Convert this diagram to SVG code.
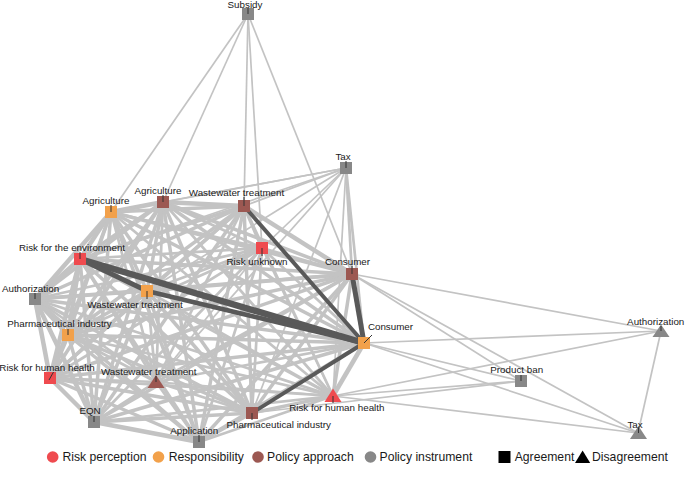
<svg xmlns="http://www.w3.org/2000/svg" width="685" height="494" viewBox="0 0 685 494">
<style>
text{font-family:"Liberation Sans",Arial,sans-serif;font-size:9.8px;fill:#1a1a1a;text-anchor:middle}
.lg text{font-size:12.2px;text-anchor:start}
#edges line{stroke:#c3c3c3}
#edges .a{stroke-width:1.8}#edges .b{stroke-width:2.7}#edges .c{stroke-width:3.5}#edges .d{stroke-width:4.5}#edges .t{stroke-width:1.7}
#edges .k{stroke:#595959}
.tick{stroke:#333;stroke-width:1}
.rp{fill:#EF4B4F}.rs{fill:#F2A14B}.pa{fill:#9C5852}.pi{fill:#888888}
</style>
<rect width="685" height="494" fill="#ffffff"/>
<g id="edges">
<line class="d" x1="111" y1="212" x2="163" y2="202"/>
<line class="c" x1="111" y1="212" x2="244" y2="206"/>
<line class="b" x1="111" y1="212" x2="262" y2="248"/>
<line class="d" x1="111" y1="212" x2="80" y2="259"/>
<line class="c" x1="111" y1="212" x2="352" y2="274"/>
<line class="d" x1="111" y1="212" x2="35" y2="299"/>
<line class="c" x1="111" y1="212" x2="147" y2="291"/>
<line class="c" x1="111" y1="212" x2="68" y2="335"/>
<line class="c" x1="111" y1="212" x2="364" y2="343"/>
<line class="c" x1="111" y1="212" x2="50" y2="378"/>
<line class="b" x1="111" y1="212" x2="156" y2="382"/>
<line class="c" x1="111" y1="212" x2="94" y2="422"/>
<line class="c" x1="111" y1="212" x2="199" y2="442"/>
<line class="c" x1="111" y1="212" x2="252" y2="413"/>
<line class="b" x1="111" y1="212" x2="333" y2="396"/>
<line class="d" x1="163" y1="202" x2="244" y2="206"/>
<line class="b" x1="163" y1="202" x2="262" y2="248"/>
<line class="c" x1="163" y1="202" x2="80" y2="259"/>
<line class="c" x1="163" y1="202" x2="352" y2="274"/>
<line class="c" x1="163" y1="202" x2="35" y2="299"/>
<line class="c" x1="163" y1="202" x2="147" y2="291"/>
<line class="c" x1="163" y1="202" x2="68" y2="335"/>
<line class="c" x1="163" y1="202" x2="364" y2="343"/>
<line class="c" x1="163" y1="202" x2="50" y2="378"/>
<line class="b" x1="163" y1="202" x2="156" y2="382"/>
<line class="c" x1="163" y1="202" x2="94" y2="422"/>
<line class="c" x1="163" y1="202" x2="199" y2="442"/>
<line class="c" x1="163" y1="202" x2="252" y2="413"/>
<line class="b" x1="163" y1="202" x2="333" y2="396"/>
<line class="c" x1="244" y1="206" x2="262" y2="248"/>
<line class="c" x1="244" y1="206" x2="80" y2="259"/>
<line class="d" x1="244" y1="206" x2="352" y2="274"/>
<line class="c" x1="244" y1="206" x2="35" y2="299"/>
<line class="c" x1="244" y1="206" x2="147" y2="291"/>
<line class="c" x1="244" y1="206" x2="68" y2="335"/>
<line class="c" x1="244" y1="206" x2="50" y2="378"/>
<line class="b" x1="244" y1="206" x2="156" y2="382"/>
<line class="c" x1="244" y1="206" x2="94" y2="422"/>
<line class="c" x1="244" y1="206" x2="199" y2="442"/>
<line class="c" x1="244" y1="206" x2="252" y2="413"/>
<line class="b" x1="244" y1="206" x2="333" y2="396"/>
<line class="b" x1="262" y1="248" x2="80" y2="259"/>
<line class="b" x1="262" y1="248" x2="352" y2="274"/>
<line class="b" x1="262" y1="248" x2="35" y2="299"/>
<line class="b" x1="262" y1="248" x2="147" y2="291"/>
<line class="b" x1="262" y1="248" x2="68" y2="335"/>
<line class="b" x1="262" y1="248" x2="364" y2="343"/>
<line class="b" x1="262" y1="248" x2="50" y2="378"/>
<line class="a" x1="262" y1="248" x2="156" y2="382"/>
<line class="b" x1="262" y1="248" x2="94" y2="422"/>
<line class="b" x1="262" y1="248" x2="199" y2="442"/>
<line class="b" x1="262" y1="248" x2="252" y2="413"/>
<line class="a" x1="262" y1="248" x2="333" y2="396"/>
<line class="c" x1="80" y1="259" x2="352" y2="274"/>
<line class="d" x1="80" y1="259" x2="35" y2="299"/>
<line class="d" x1="80" y1="259" x2="68" y2="335"/>
<line class="d" x1="80" y1="259" x2="50" y2="378"/>
<line class="b" x1="80" y1="259" x2="156" y2="382"/>
<line class="c" x1="80" y1="259" x2="94" y2="422"/>
<line class="c" x1="80" y1="259" x2="199" y2="442"/>
<line class="c" x1="80" y1="259" x2="252" y2="413"/>
<line class="b" x1="80" y1="259" x2="333" y2="396"/>
<line class="c" x1="352" y1="274" x2="35" y2="299"/>
<line class="c" x1="352" y1="274" x2="147" y2="291"/>
<line class="c" x1="352" y1="274" x2="68" y2="335"/>
<line class="c" x1="352" y1="274" x2="50" y2="378"/>
<line class="b" x1="352" y1="274" x2="156" y2="382"/>
<line class="c" x1="352" y1="274" x2="94" y2="422"/>
<line class="c" x1="352" y1="274" x2="199" y2="442"/>
<line class="c" x1="352" y1="274" x2="252" y2="413"/>
<line class="c" x1="352" y1="274" x2="333" y2="396"/>
<line class="c" x1="35" y1="299" x2="147" y2="291"/>
<line class="d" x1="35" y1="299" x2="68" y2="335"/>
<line class="c" x1="35" y1="299" x2="364" y2="343"/>
<line class="d" x1="35" y1="299" x2="50" y2="378"/>
<line class="b" x1="35" y1="299" x2="156" y2="382"/>
<line class="d" x1="35" y1="299" x2="94" y2="422"/>
<line class="c" x1="35" y1="299" x2="199" y2="442"/>
<line class="c" x1="35" y1="299" x2="252" y2="413"/>
<line class="b" x1="35" y1="299" x2="333" y2="396"/>
<line class="c" x1="147" y1="291" x2="68" y2="335"/>
<line class="c" x1="147" y1="291" x2="50" y2="378"/>
<line class="b" x1="147" y1="291" x2="156" y2="382"/>
<line class="c" x1="147" y1="291" x2="94" y2="422"/>
<line class="c" x1="147" y1="291" x2="199" y2="442"/>
<line class="c" x1="147" y1="291" x2="252" y2="413"/>
<line class="b" x1="147" y1="291" x2="333" y2="396"/>
<line class="c" x1="68" y1="335" x2="364" y2="343"/>
<line class="d" x1="68" y1="335" x2="50" y2="378"/>
<line class="b" x1="68" y1="335" x2="156" y2="382"/>
<line class="c" x1="68" y1="335" x2="94" y2="422"/>
<line class="c" x1="68" y1="335" x2="199" y2="442"/>
<line class="c" x1="68" y1="335" x2="252" y2="413"/>
<line class="b" x1="68" y1="335" x2="333" y2="396"/>
<line class="c" x1="364" y1="343" x2="50" y2="378"/>
<line class="b" x1="364" y1="343" x2="156" y2="382"/>
<line class="c" x1="364" y1="343" x2="94" y2="422"/>
<line class="c" x1="364" y1="343" x2="199" y2="442"/>
<line class="d" x1="364" y1="343" x2="333" y2="396"/>
<line class="b" x1="50" y1="378" x2="156" y2="382"/>
<line class="d" x1="50" y1="378" x2="94" y2="422"/>
<line class="c" x1="50" y1="378" x2="199" y2="442"/>
<line class="c" x1="50" y1="378" x2="252" y2="413"/>
<line class="b" x1="50" y1="378" x2="333" y2="396"/>
<line class="b" x1="156" y1="382" x2="94" y2="422"/>
<line class="b" x1="156" y1="382" x2="199" y2="442"/>
<line class="b" x1="156" y1="382" x2="252" y2="413"/>
<line class="a" x1="156" y1="382" x2="333" y2="396"/>
<line class="d" x1="94" y1="422" x2="199" y2="442"/>
<line class="c" x1="94" y1="422" x2="252" y2="413"/>
<line class="b" x1="94" y1="422" x2="333" y2="396"/>
<line class="c" x1="199" y1="442" x2="252" y2="413"/>
<line class="b" x1="199" y1="442" x2="333" y2="396"/>
<line class="c" x1="252" y1="413" x2="333" y2="396"/>
<line class="t" x1="248" y1="14" x2="111" y2="212"/>
<line class="t" x1="248" y1="14" x2="163" y2="202"/>
<line class="t" x1="248" y1="14" x2="244" y2="206"/>
<line class="t" x1="248" y1="14" x2="262" y2="248"/>
<line class="t" x1="248" y1="14" x2="352" y2="274"/>
<line class="t" x1="346" y1="168" x2="111" y2="212"/>
<line class="t" x1="346" y1="168" x2="163" y2="202"/>
<line class="t" x1="346" y1="168" x2="244" y2="206"/>
<line class="t" x1="346" y1="168" x2="262" y2="248"/>
<line class="t" x1="346" y1="168" x2="80" y2="259"/>
<line class="b" x1="346" y1="168" x2="352" y2="274"/>
<line class="t" x1="346" y1="168" x2="147" y2="291"/>
<line class="b" x1="346" y1="168" x2="364" y2="343"/>
<line class="t" x1="346" y1="168" x2="156" y2="382"/>
<line class="t" x1="346" y1="168" x2="252" y2="413"/>
<line class="t" x1="346" y1="168" x2="333" y2="396"/>
<line class="t" x1="352" y1="274" x2="661" y2="331"/>
<line class="t" x1="352" y1="274" x2="521" y2="381"/>
<line class="t" x1="352" y1="274" x2="638" y2="433"/>
<line class="t" x1="364" y1="343" x2="661" y2="331"/>
<line class="t" x1="364" y1="343" x2="521" y2="381"/>
<line class="t" x1="364" y1="343" x2="638" y2="433"/>
<line class="t" x1="333" y1="396" x2="661" y2="331"/>
<line class="t" x1="333" y1="396" x2="521" y2="381"/>
<line class="t" x1="333" y1="396" x2="638" y2="433"/>
<line class="t" x1="252" y1="413" x2="521" y2="381"/>
<line class="t" x1="661" y1="331" x2="638" y2="433"/>
<line class="k" stroke-width="6.5" x1="80" y1="259" x2="364" y2="343"/>
<line class="k" stroke-width="4.8" x1="80" y1="259" x2="147" y2="291"/>
<line class="k" stroke-width="4.8" x1="147" y1="291" x2="364" y2="343"/>
<line class="k" stroke-width="4" x1="244" y1="206" x2="364" y2="343"/>
<line class="k" stroke-width="5" x1="352" y1="274" x2="364" y2="343"/>
<line class="k" stroke-width="4" x1="252" y1="413" x2="364" y2="343"/>
</g>
<g id="n-subsidy"><rect class="pi" x="242" y="8" width="12" height="12"/><line class="tick" x1="248" y1="14" x2="248" y2="8"/><text x="245" y="7.5">Subsidy</text></g>
<g id="n-tax"><rect class="pi" x="340" y="162" width="12" height="12"/><line class="tick" x1="346" y1="168" x2="346" y2="161"/><text x="343" y="160">Tax</text></g>
<g id="n-agri-resp"><rect class="rs" x="105" y="206" width="12" height="12"/><line class="tick" x1="111" y1="212" x2="111" y2="205"/><text x="106" y="204">Agriculture</text></g>
<g id="n-agri-pol"><rect class="pa" x="157" y="196" width="12" height="12"/><line class="tick" x1="163" y1="202" x2="163" y2="195"/><text x="158" y="194">Agriculture</text></g>
<g id="n-ww-pol"><rect class="pa" x="238" y="200" width="12" height="12"/><line class="tick" x1="244" y1="206" x2="244" y2="197"/><text x="236.5" y="195.5">Wastewater treatment</text></g>
<g id="n-risk-unknown"><rect class="rp" x="256" y="242" width="12" height="12"/><line class="tick" x1="262" y1="248" x2="262" y2="256"/><text x="257" y="264.5">Risk unknown</text></g>
<g id="n-risk-env"><rect class="rp" x="74" y="253" width="12" height="12"/><line class="tick" x1="80" y1="259" x2="80" y2="252"/><text x="72" y="250.5">Risk for the environment</text></g>
<g id="n-consumer-pol"><rect class="pa" x="346" y="268" width="12" height="12"/><line class="tick" x1="352" y1="274" x2="352" y2="266"/><text x="347.5" y="265">Consumer</text></g>
<g id="n-auth"><rect class="pi" x="29" y="293" width="12" height="12"/><line class="tick" x1="35" y1="299" x2="35" y2="293"/><text x="30.5" y="291.5">Authorization</text></g>
<g id="n-ww-resp"><rect class="rs" x="141" y="285" width="12" height="12"/><line class="tick" x1="147" y1="291" x2="147" y2="299"/><text x="135" y="307.5">Wastewater treatment</text></g>
<g id="n-pharma-resp"><rect class="rs" x="62" y="329" width="12" height="12"/><line class="tick" x1="68" y1="335" x2="68" y2="329"/><text x="59.5" y="327.3">Pharmaceutical industry</text></g>
<g id="n-consumer-resp"><rect class="rs" x="358" y="337" width="12" height="12"/><line class="tick" x1="364" y1="343" x2="372" y2="335"/><text x="390.5" y="330">Consumer</text></g>
<g id="n-rhh-sq"><rect class="rp" x="44" y="372" width="12" height="12"/><line class="tick" x1="49" y1="380" x2="53.5" y2="372"/><text x="47" y="370.7">Risk for human health</text></g>
<g id="n-ww-tri"><polygon class="pa" points="156,375 164.5,388 147.5,388"/><line class="tick" x1="156" y1="382" x2="156" y2="376"/><text x="148.7" y="375">Wastewater treatment</text></g>
<g id="n-eqn"><rect class="pi" x="88" y="416" width="12" height="12"/><line class="tick" x1="94" y1="422" x2="94" y2="416"/><text x="90" y="414.3">EQN</text></g>
<g id="n-application"><rect class="pi" x="193" y="436" width="12" height="12"/><line class="tick" x1="199" y1="442" x2="199" y2="435"/><text x="194.3" y="434">Application</text></g>
<g id="n-pharma-pol"><rect class="pa" x="246" y="407" width="12" height="12"/><line class="tick" x1="252" y1="413" x2="252" y2="420"/><text x="278.7" y="427.7">Pharmaceutical industry</text></g>
<g id="n-rhh-tri"><polygon class="rp" points="333,388.5 341.5,402 324.5,402"/><line class="tick" x1="333" y1="396" x2="333" y2="403"/><text x="336.8" y="411">Risk for human health</text></g>
<g id="n-product-ban"><rect class="pi" x="515" y="375" width="12" height="12"/><line class="tick" x1="521" y1="381" x2="521" y2="375"/><text x="516.7" y="373.3">Product ban</text></g>
<g id="n-auth-tri"><polygon class="pi" points="661,324.5 669.5,337 652.5,337"/><line class="tick" x1="661" y1="331" x2="661" y2="326"/><text x="655.7" y="325.3">Authorization</text></g>
<g id="n-tax-tri"><polygon class="pi" points="638.5,426 647,439 630,439"/><line class="tick" x1="638.5" y1="433" x2="638.5" y2="428"/><text x="635" y="427.7">Tax</text></g>
<g id="legend" class="lg">
<circle class="rp" cx="52.7" cy="457" r="5.8"/><text x="62.5" y="461.3">Risk perception</text>
<circle class="rs" cx="158.5" cy="457" r="5.8"/><text x="168.7" y="461.3">Responsibility</text>
<circle class="pa" cx="258" cy="457" r="5.8"/><text x="267" y="461.3">Policy approach</text>
<circle class="pi" cx="370.5" cy="457" r="5.8"/><text x="379.5" y="461.3">Policy instrument</text>
<rect x="498.5" y="451" width="12" height="12" fill="#000"/><text x="514.7" y="461.3">Agreement</text>
<polygon points="582.6,450.5 590.2,463 575,463" fill="#000"/><text x="592" y="461.3">Disagreement</text>
</g>
</svg>
